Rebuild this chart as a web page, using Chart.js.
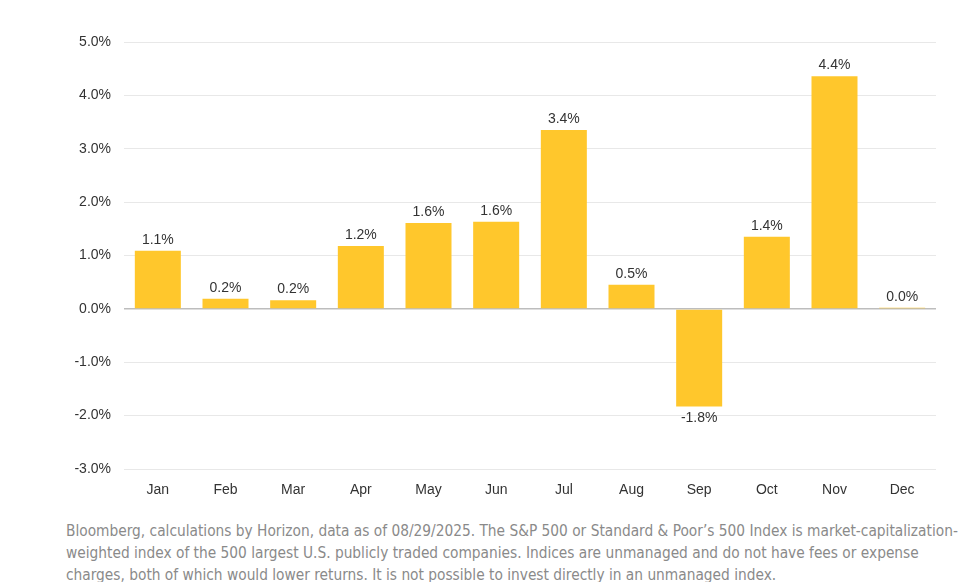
<!DOCTYPE html>
<html>
<head>
<meta charset="utf-8">
<script src="https://cdn.jsdelivr.net/npm/chart.js@4"></script>
<style>
  html, body { margin: 0; padding: 0; background: #fff; }
  #wrap { position: absolute; left: 0; top: 0; width: 963px; height: 510px; }
  #note {
    position: absolute; left: 66px; top: 520px; width: 895px;
    font-family: "DejaVu Sans", sans-serif; font-stretch: condensed;
    font-size: 15.3px; line-height: 22px; color: #8a8a8a; white-space: nowrap;
  }
</style>
</head>
<body>
<div id="wrap"><canvas id="monthChart"></canvas></div>
<div id="note">Bloomberg, calculations by Horizon, data as of 08/29/2025. The S&amp;P 500 or Standard &amp; Poor’s 500 Index is market-capitalization-<br>weighted index of the 500 largest U.S. publicly traded companies. Indices are unmanaged and do not have fees or expense<br>charges, both of which would lower returns. It is not possible to invest directly in an unmanaged index.</div>
<script>
// average monthly return (%)
const months = ["Jan", "Feb", "Mar", "Apr", "May", "Jun", "Jul", "Aug", "Sep", "Oct", "Nov", "Dec"];
const returns = [1.09, 0.19, 0.16, 1.18, 1.61, 1.63, 3.35, 0.45, -1.83, 1.35, 4.36, 0.02];
const yTicks = [5, 4, 3, 2, 1, 0, -1, -2, -3];

// value labels above / below each bar
const barLabels = {
    id: "barLabels",
    afterDatasetsDraw(chart) {
        const ctx = chart.ctx;
        const meta = chart.getDatasetMeta(0);
        ctx.save();
        ctx.font = "14px 'Liberation Sans', Arial, sans-serif";
        ctx.fillStyle = "#333";
        ctx.textAlign = "center";
        meta.data.forEach((bar, i) => {
            const v = returns[i];
            const txt = v.toFixed(1) + "%";
            if (v >= 0) {
                ctx.textBaseline = "bottom";
                ctx.fillText(txt, bar.x, bar.y - 4);
            } else {
                ctx.textBaseline = "top";
                ctx.fillText(txt, bar.x, bar.y + 5);
            }
        });
        ctx.restore();
    }
};

new Chart(document.getElementById("monthChart"), {
    type: "bar",
    data: {
        labels: months,
        datasets: [{
            data: returns,
            backgroundColor: "#ffc72c",
            barPercentage: 0.68,
            categoryPercentage: 1
        }]
    },
    options: {
        responsive: true,
        maintainAspectRatio: false,
        animation: false,
        layout: { padding: { top: 42, right: 27, bottom: 0, left: 0 } },
        plugins: { legend: { display: false }, tooltip: { enabled: false } },
        scales: {
            x: {
                grid: { display: false },
                border: { display: false },
                ticks: {
                    color: "#333",
                    padding: 5,
                    font: { family: "'Liberation Sans', Arial, sans-serif", size: 14 }
                },
                afterFit(scale) { scale.height = 41; }
            },
            y: {
                min: -3,
                max: 5,
                afterBuildTicks(scale) { scale.ticks = yTicks.map(v => ({ value: v })); },
                grid: {
                    drawTicks: false,
                    color: ctx => ctx.tick && ctx.tick.value === 0 ? "#bdbdbd" : "#e8e8e8",
                    lineWidth: ctx => ctx.tick && ctx.tick.value === 0 ? 1.5 : 1
                },
                border: { display: false },
                ticks: {
                    color: "#333",
                    padding: 13,
                    font: { family: "'Liberation Sans', Arial, sans-serif", size: 14 },
                    callback: v => v.toFixed(1) + "%"
                },
                afterFit(scale) { scale.width = 124; }
            }
        }
    },
    plugins: [barLabels]
});
</script>
</body>
</html>
